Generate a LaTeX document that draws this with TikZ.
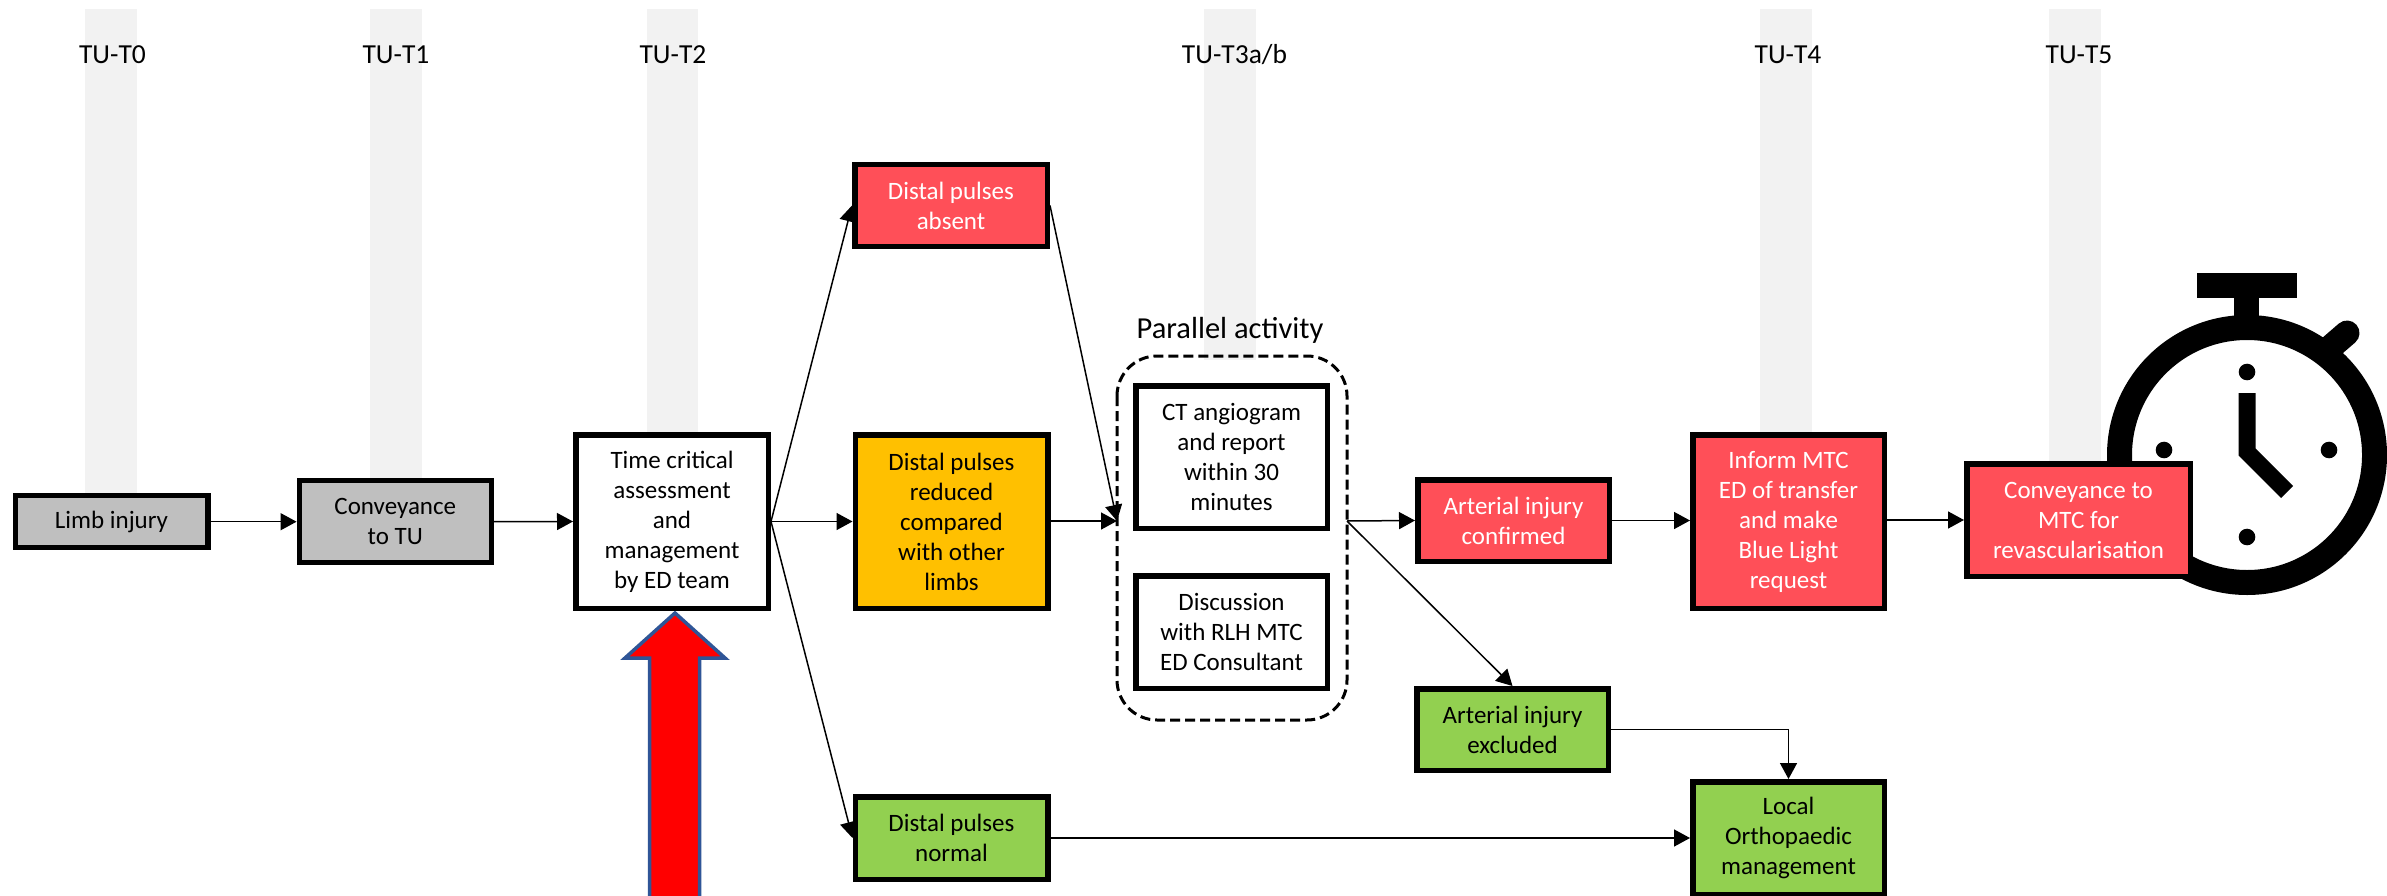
\documentclass[tikz,border=0pt]{standalone}
\usepackage{fontspec}
\setmainfont{Carlito}
\usetikzlibrary{arrows.meta}
\definecolor{bandgrey}{HTML}{F2F2F2}
\definecolor{boxgrey}{HTML}{BFBFBF}
\definecolor{boxred}{HTML}{FF4F58}
\definecolor{boxamber}{HTML}{FFC000}
\definecolor{boxgreen}{HTML}{92D050}
\definecolor{arrowedge}{HTML}{2F5597}
\tikzset{
  x=1pt,y=-1pt,
  stepbox/.style={draw=black,line width=5.5pt,align=center,inner sep=0pt,text=black,
    font=\fontsize{25}{30}\selectfont},
  greybox/.style={stepbox,fill=boxgrey},
  whitebox/.style={stepbox,fill=white},
  redbox/.style={stepbox,fill=boxred,text=white},
  amberbox/.style={stepbox,fill=boxamber},
  greenbox/.style={stepbox,fill=boxgreen},
  band/.style={fill=bandgrey,draw=none},
  timelabel/.style={font=\fontsize{27.5}{30}\selectfont,inner sep=0pt,text=black},
  conn/.style={draw=black,line width=1.5pt,-{Triangle[length=16pt,width=17pt]}}
}
\begin{document}
\begin{tikzpicture}
\useasboundingbox (0,0) rectangle (2387,896);
\fill[white] (0,0) rectangle (2387,896);
% time bands
\fill[band] (85,9) rectangle (137,500);
\fill[band] (370,9) rectangle (422,490);
\fill[band] (647,9) rectangle (698,440);
\fill[band] (1204,9) rectangle (1256,360);
\fill[band] (1760,9) rectangle (1812,440);
\fill[band] (2049,9) rectangle (2101,470);
% time labels
\node[timelabel] (t0) at (112.5,55) {TU-T0};
\node[timelabel] (t1) at (396,55) {TU-T1};
\node[timelabel] (t2) at (673,55) {TU-T2};
\node[timelabel] (t3) at (1234.5,55) {TU-T3a/b};
\node[timelabel] (t4) at (1788,55) {TU-T4};
\node[timelabel] (t5) at (2079,55) {TU-T5};
% stopwatch
\draw[line width=25pt] (2247,455) circle (127.5);
\fill (2197,273) rectangle (2297,298);
\fill (2234,298) rectangle (2259,322);
\draw[line width=25pt,line cap=round] (2325,352) -- (2347,333);
\fill (2247,372) circle (8.3);
\fill (2164,450) circle (8.3);
\fill (2329,450) circle (8.3);
\fill (2247,537) circle (8.3);
\draw[line width=17pt,miter limit=10] (2247,393) -- (2247,452) -- (2287,492);
% red arrow
\draw[draw=arrowedge,fill=red,line width=3.5pt,line join=miter]
  (675,613) -- (725,658) -- (699.5,658) -- (699.5,900) -- (649.5,900) -- (649.5,658) -- (625,658) -- cycle;
% nodes
\node[greybox,minimum width=192.5pt,minimum height=52pt] (limb) at (111.5,521.7) {Limb injury};
\node[greybox,minimum width=192pt,minimum height=82pt] (conv) at (395.3,521.7) {Conveyance\\to TU};
\node[whitebox,minimum width=192.5pt,minimum height=173.5pt] (time) at (672,521.5) {Time critical\\assessment\\and\\management\\by ED team};
\node[redbox,minimum width=192.5pt,minimum height=81.5pt] (absent) at (951,205.5) {Distal pulses\\absent};
\node[amberbox,minimum width=192.5pt,minimum height=173.5pt] (reduced) at (951.5,521.5) {Distal pulses\\reduced\\compared\\with other\\limbs};
\node[greenbox,minimum width=192.5pt,minimum height=82.5pt] (normal) at (951.5,838) {Distal pulses\\normal};
\draw[black,line width=3pt,dash pattern=on 10pt off 5pt,rounded corners=40pt,fill=none]
  (1117,356) rectangle (1347,720);
\coordinate (groupin) at (1117,521);
\coordinate (groupout) at (1347,521);
\node[font=\fontsize{30.5}{32}\selectfont,inner sep=0pt] (parallel) at (1230,330) {Parallel activity};
\node[whitebox,minimum width=191.5pt,minimum height=142.5pt] (ct) at (1231.5,457) {CT angiogram\\and report\\within 30\\minutes};
\node[whitebox,minimum width=191.5pt,minimum height=112.5pt] (disc) at (1231.5,632) {Discussion\\with RLH MTC\\ED Consultant};
\node[redbox,minimum width=191.5pt,minimum height=81.5pt] (conf) at (1513.5,520.5) {Arterial injury\\confirmed};
\node[greenbox,minimum width=191.5pt,minimum height=81.5pt] (excl) at (1512.5,729.5) {Arterial injury\\excluded};
\node[redbox,minimum width=191.5pt,minimum height=173.5pt] (inform) at (1788.5,521.5) {Inform MTC\\ED of transfer\\and make\\Blue Light\\request};
\node[greenbox,minimum width=191.5pt,minimum height=112.5pt] (local) at (1788.5,838) {Local\\Orthopaedic\\management};
\node[redbox,minimum width=223.5pt,minimum height=112.5pt] (mtc) at (2078.5,520) {Conveyance to\\MTC for\\revascularisation};
% connectors
\draw[conn] (limb.east) -- (conv.west);
\draw[conn] (conv.east) -- (time.west);
\draw[conn] (time.east) -- (absent.west);
\draw[conn] (time.east) -- (reduced.west |- time.east);
\draw[conn] (time.east) -- (normal.west);
\draw[conn] (absent.east) -- (groupin);
\draw[conn] (reduced.east |- groupin) -- (groupin);
\draw[conn] (groupout) -- (conf.west);
\draw[conn] (groupout) -- (excl.north);
\draw[conn] (conf.east) -- (inform.west |- conf.east);
\draw[conn] (inform.east |- mtc.west) -- (mtc.west);
\draw[conn] (normal.east) -- (local.west);
\draw[conn] (excl.east) -| (local.north);
\end{tikzpicture}
\end{document}
